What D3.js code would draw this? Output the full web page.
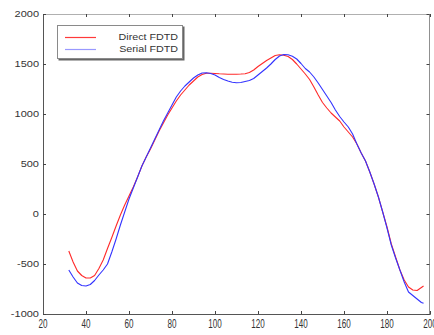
<!DOCTYPE html>
<html>
<head>
<meta charset="utf-8">
<script src="https://cdn.jsdelivr.net/npm/d3@7"></script>
<style>
  html, body { margin: 0; padding: 0; background: #fff; }
  svg { display: block; }
</style>
</head>
<body>
<svg id="chart" width="434" height="335"></svg>
<script>
// Sample positions for both series
const xs = [32, 34, 36, 38, 40, 42, 44, 46, 48, 50, 52, 54, 56, 58, 60, 62, 64, 66, 68, 70,
  72, 74, 76, 78, 80, 82, 84, 86, 88, 90, 92, 94, 96, 98, 100, 102, 104, 106, 108, 110,
  112, 114, 116, 118, 120, 122, 124, 126, 128, 130, 132, 134, 136, 138, 140, 142, 144, 146, 148, 150,
  152, 154, 156, 158, 160, 162, 164, 166, 168, 170, 172, 174, 176, 178, 180, 182, 184, 186, 188, 190,
  192, 194, 196, 197];

// Direct FDTD
const directFDTD = [-370, -480, -570, -615, -640, -640, -615, -545, -460, -345, -235, -120, -10, 90, 180, 270, 370, 480, 570, 650,
  740, 830, 910, 990, 1060, 1130, 1190, 1240, 1290, 1330, 1370, 1395, 1407, 1408, 1405, 1402, 1400, 1398, 1397, 1398,
  1400, 1403, 1415, 1440, 1475, 1505, 1535, 1560, 1585, 1592, 1588, 1575, 1545, 1500, 1450, 1400, 1345, 1270, 1190, 1115,
  1060, 1010, 970, 930, 870, 820, 770, 700, 610, 530, 420, 300, 170, 20, -130, -300, -430, -560, -660, -730,
  -760, -765, -735, -720];

// Serial FDTD
const serialFDTD = [-560, -630, -690, -715, -720, -705, -665, -610, -560, -500, -380, -250, -110, 20, 150, 260, 370, 480, 570, 660,
  750, 840, 930, 1010, 1090, 1170, 1230, 1280, 1320, 1360, 1390, 1410, 1412, 1405, 1390, 1365, 1345, 1330, 1318, 1313,
  1315, 1325, 1335, 1355, 1390, 1425, 1460, 1500, 1545, 1580, 1595, 1592, 1577, 1550, 1505, 1455, 1420, 1370, 1310, 1245,
  1180, 1115, 1040, 975, 920, 870, 800, 700, 610, 530, 420, 300, 170, 20, -140, -310, -440, -560, -680, -780,
  -815, -850, -885, -893];

const xTicks = [20, 40, 60, 80, 100, 120, 140, 160, 180, 200];
const yTicks = [-1000, -500, 0, 500, 1000, 1500, 2000];
const seriesNames = ["Direct FDTD", "Serial FDTD"];
const seriesColors = ["#ff2a2a", "#3333ff"];

const svg = d3.select("#chart");
const plotLeft = 43, plotRight = 430, plotTop = 14, plotBottom = 314;

const x = d3.scaleLinear().domain([20, 200]).range([plotLeft, plotRight]);
const y = d3.scaleLinear().domain([-1000, 2000]).range([plotBottom, plotTop]);

// Plot frame
const frame = svg.append("g");
frame.append("line").attr("x1", plotLeft).attr("x2", plotRight).attr("y1", plotTop + 0.5).attr("y2", plotTop + 0.5)
  .attr("stroke", "#b0b0b0");
frame.append("line").attr("x1", plotRight - 0.5).attr("x2", plotRight - 0.5).attr("y1", plotTop).attr("y2", plotBottom)
  .attr("stroke", "#909090");

// Axes with inward ticks
const axisBottom = svg.append("g").attr("transform", `translate(0,${plotBottom})`)
  .call(d3.axisBottom(x).tickValues(xTicks).tickSize(-3).tickFormat(""));
const axisTop = svg.append("g").attr("transform", `translate(0,${plotTop})`)
  .call(d3.axisTop(x).tickValues(xTicks).tickSize(-3).tickFormat(""));
const axisLeft = svg.append("g").attr("transform", `translate(${plotLeft},0)`)
  .call(d3.axisLeft(y).tickValues(yTicks).tickSize(-3).tickFormat(""));
const axisRight = svg.append("g").attr("transform", `translate(${plotRight - 0.5},0)`)
  .call(d3.axisRight(y).tickValues(yTicks).tickSize(-3).tickFormat(""));

[axisBottom, axisLeft].forEach(g => {
  g.select(".domain").attr("stroke", "#555");
  g.selectAll(".tick line").attr("stroke", "#444");
});
axisTop.select(".domain").remove();
axisRight.select(".domain").remove();
[axisTop, axisRight].forEach(g => g.selectAll(".tick line").attr("stroke", "#444"));

// Tick labels
const labelFont = "'Liberation Sans', Arial, sans-serif";
svg.append("g").selectAll("text").data(xTicks).join("text")
  .attr("transform", d => `translate(${x(d)},328) scale(0.85,1.3)`)
  .attr("text-anchor", "middle")
  .attr("font-family", labelFont)
  .attr("font-size", 9.5)
  .attr("fill", "#333")
  .text(d => d);

svg.append("g").selectAll("text").data(yTicks).join("text")
  .attr("transform", d => `translate(39,${y(d) + 3}) scale(1.05,0.82)`)
  .attr("text-anchor", "end")
  .attr("font-family", labelFont)
  .attr("font-size", 10.5)
  .attr("fill", "#333")
  .text(d => d);

// Series lines
const line = d3.line().x((d, i) => x(xs[i])).y(d => y(d));
[directFDTD, serialFDTD].forEach((vals, k) => {
  svg.append("path")
    .datum(vals)
    .attr("d", line)
    .attr("fill", "none")
    .attr("stroke", seriesColors[k])
    .attr("stroke-width", 1.1)
    .attr("stroke-linejoin", "round");
});

// Legend
const legend = svg.append("g");
legend.append("rect").attr("x", 58.5).attr("y", 26.5).attr("width", 126).attr("height", 34)
  .attr("fill", "#666");
legend.append("rect").attr("x", 57.5).attr("y", 25.5).attr("width", 125).attr("height", 33)
  .attr("fill", "#fff").attr("stroke", "#8a8a8a");
const legendRows = [37.5, 49.5];
seriesNames.forEach((name, k) => {
  legend.append("line").attr("x1", 65).attr("x2", 96)
    .attr("y1", legendRows[k]).attr("y2", legendRows[k])
    .attr("stroke", k === 0 ? "#ff3a3a" : "#9999ff").attr("stroke-width", 1.2);
  legend.append("text")
    .attr("transform", `translate(178,${legendRows[k] + 2}) scale(1.02,0.8)`)
    .attr("text-anchor", "end")
    .attr("font-family", labelFont)
    .attr("font-size", 10.5)
    .attr("fill", "#333")
    .text(name);
});
</script>
</body>
</html>
